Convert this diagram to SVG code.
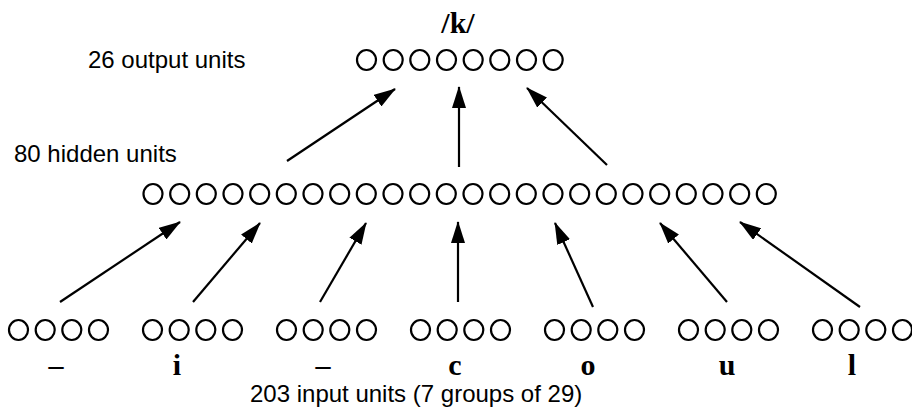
<svg xmlns="http://www.w3.org/2000/svg" width="912" height="410" viewBox="0 0 912 410">
<style>
.u{fill:none;stroke:#000;stroke-width:2.2}
.lab{font-family:"Liberation Sans",Arial,sans-serif;font-size:24px;fill:#000}
.sym{font-family:"Liberation Serif","Times New Roman",serif;font-weight:bold;font-size:30px;fill:#000;text-anchor:middle}
.ar{stroke:#000;stroke-width:2.2;fill:none;marker-end:url(#ah)}
</style>
<defs>
<marker id="ah" markerUnits="userSpaceOnUse" markerWidth="22" markerHeight="14" refX="21" refY="7" orient="auto">
<path d="M0,0 L22,7 L0,14 Z" fill="#000"/>
</marker>
</defs>
<rect width="912" height="410" fill="#fff"/>
<g id="output-layer">
<text class="sym" x="458" y="33">/k/</text>
<text class="lab" x="88" y="68">26 output units</text>
<ellipse class="u" cx="366.5" cy="60" rx="9.5" ry="10"/><ellipse class="u" cx="393.2" cy="60" rx="9.5" ry="10"/><ellipse class="u" cx="419.8" cy="60" rx="9.5" ry="10"/><ellipse class="u" cx="446.5" cy="60" rx="9.5" ry="10"/><ellipse class="u" cx="473.2" cy="60" rx="9.5" ry="10"/><ellipse class="u" cx="499.8" cy="60" rx="9.5" ry="10"/><ellipse class="u" cx="526.5" cy="60" rx="9.5" ry="10"/><ellipse class="u" cx="553.2" cy="60" rx="9.5" ry="10"/>
</g>
<g id="hidden-layer">
<text class="lab" x="14" y="162">80 hidden units</text>
<ellipse class="u" cx="153" cy="194" rx="9.5" ry="10"/><ellipse class="u" cx="179.7" cy="194" rx="9.5" ry="10"/><ellipse class="u" cx="206.3" cy="194" rx="9.5" ry="10"/><ellipse class="u" cx="233" cy="194" rx="9.5" ry="10"/><ellipse class="u" cx="259.7" cy="194" rx="9.5" ry="10"/><ellipse class="u" cx="286.3" cy="194" rx="9.5" ry="10"/><ellipse class="u" cx="313" cy="194" rx="9.5" ry="10"/><ellipse class="u" cx="339.7" cy="194" rx="9.5" ry="10"/><ellipse class="u" cx="366.3" cy="194" rx="9.5" ry="10"/><ellipse class="u" cx="393" cy="194" rx="9.5" ry="10"/><ellipse class="u" cx="419.7" cy="194" rx="9.5" ry="10"/><ellipse class="u" cx="446.3" cy="194" rx="9.5" ry="10"/><ellipse class="u" cx="473" cy="194" rx="9.5" ry="10"/><ellipse class="u" cx="499.7" cy="194" rx="9.5" ry="10"/><ellipse class="u" cx="526.3" cy="194" rx="9.5" ry="10"/><ellipse class="u" cx="553" cy="194" rx="9.5" ry="10"/><ellipse class="u" cx="579.7" cy="194" rx="9.5" ry="10"/><ellipse class="u" cx="606.3" cy="194" rx="9.5" ry="10"/><ellipse class="u" cx="633" cy="194" rx="9.5" ry="10"/><ellipse class="u" cx="659.7" cy="194" rx="9.5" ry="10"/><ellipse class="u" cx="686.3" cy="194" rx="9.5" ry="10"/><ellipse class="u" cx="713" cy="194" rx="9.5" ry="10"/><ellipse class="u" cx="739.7" cy="194" rx="9.5" ry="10"/><ellipse class="u" cx="766.3" cy="194" rx="9.5" ry="10"/>
</g>
<g id="input-group-1">
<ellipse class="u" cx="18.5" cy="330" rx="9.5" ry="10"/><ellipse class="u" cx="45.2" cy="330" rx="9.5" ry="10"/><ellipse class="u" cx="71.8" cy="330" rx="9.5" ry="10"/><ellipse class="u" cx="98.5" cy="330" rx="9.5" ry="10"/>
<text class="sym" x="56" y="375">–</text>
</g>
<g id="input-group-2">
<ellipse class="u" cx="152.5" cy="330" rx="9.5" ry="10"/><ellipse class="u" cx="179.2" cy="330" rx="9.5" ry="10"/><ellipse class="u" cx="205.8" cy="330" rx="9.5" ry="10"/><ellipse class="u" cx="232.5" cy="330" rx="9.5" ry="10"/>
<text class="sym" x="177" y="375">i</text>
</g>
<g id="input-group-3">
<ellipse class="u" cx="286.5" cy="330" rx="9.5" ry="10"/><ellipse class="u" cx="313.2" cy="330" rx="9.5" ry="10"/><ellipse class="u" cx="339.8" cy="330" rx="9.5" ry="10"/><ellipse class="u" cx="366.5" cy="330" rx="9.5" ry="10"/>
<text class="sym" x="323" y="375">–</text>
</g>
<g id="input-group-4">
<ellipse class="u" cx="420.5" cy="330" rx="9.5" ry="10"/><ellipse class="u" cx="447.2" cy="330" rx="9.5" ry="10"/><ellipse class="u" cx="473.8" cy="330" rx="9.5" ry="10"/><ellipse class="u" cx="500.5" cy="330" rx="9.5" ry="10"/>
<text class="sym" x="455" y="375">c</text>
</g>
<g id="input-group-5">
<ellipse class="u" cx="554.5" cy="330" rx="9.5" ry="10"/><ellipse class="u" cx="581.2" cy="330" rx="9.5" ry="10"/><ellipse class="u" cx="607.8" cy="330" rx="9.5" ry="10"/><ellipse class="u" cx="634.5" cy="330" rx="9.5" ry="10"/>
<text class="sym" x="588" y="375">o</text>
</g>
<g id="input-group-6">
<ellipse class="u" cx="688.5" cy="330" rx="9.5" ry="10"/><ellipse class="u" cx="715.2" cy="330" rx="9.5" ry="10"/><ellipse class="u" cx="741.8" cy="330" rx="9.5" ry="10"/><ellipse class="u" cx="768.5" cy="330" rx="9.5" ry="10"/>
<text class="sym" x="727" y="375">u</text>
</g>
<g id="input-group-7">
<ellipse class="u" cx="822.5" cy="330" rx="9.5" ry="10"/><ellipse class="u" cx="849.2" cy="330" rx="9.5" ry="10"/><ellipse class="u" cx="875.8" cy="330" rx="9.5" ry="10"/><ellipse class="u" cx="902.5" cy="330" rx="9.5" ry="10"/>
<text class="sym" x="852" y="375">l</text>
</g>
<g id="input-label">
<text class="lab" x="250" y="402">203 input units (7 groups of 29)</text>
</g>
<g id="connectors">
<line class="ar" x1="287" y1="161" x2="395" y2="89"/>
<line class="ar" x1="459" y1="167" x2="459" y2="87"/>
<line class="ar" x1="607" y1="165" x2="527" y2="88"/>
<line class="ar" x1="60" y1="302" x2="180" y2="222"/>
<line class="ar" x1="193" y1="302" x2="260" y2="223"/>
<line class="ar" x1="320" y1="302" x2="366" y2="223"/>
<line class="ar" x1="458" y1="302" x2="458" y2="222"/>
<line class="ar" x1="593" y1="307" x2="555" y2="223"/>
<line class="ar" x1="727" y1="302" x2="660" y2="223"/>
<line class="ar" x1="860" y1="307" x2="740" y2="222"/>
</g>
</svg>
